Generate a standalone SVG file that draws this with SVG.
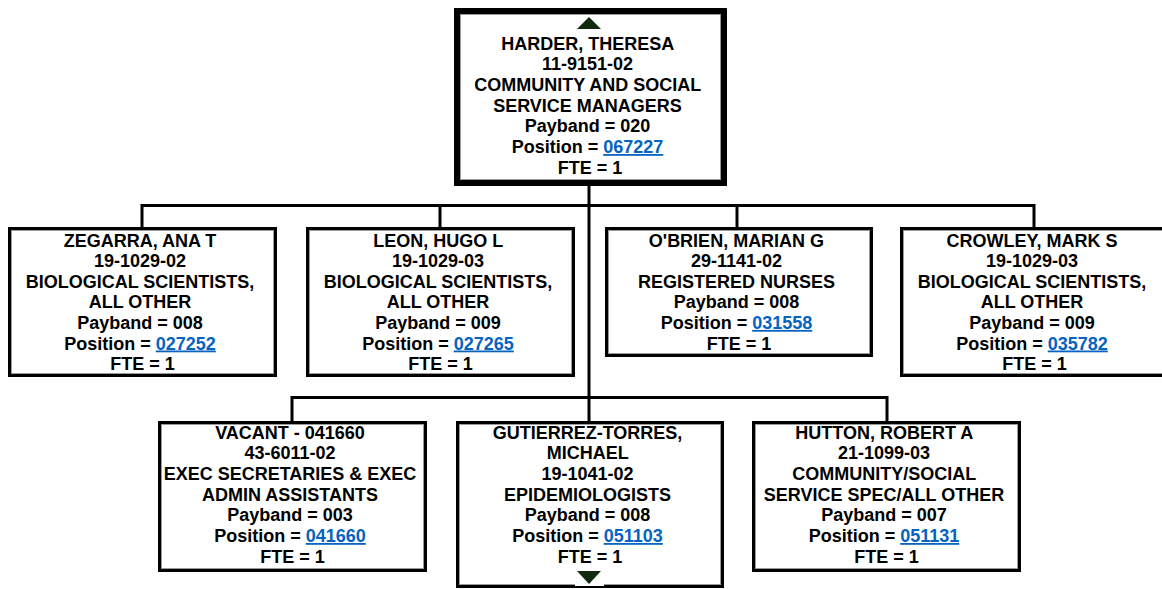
<svg xmlns="http://www.w3.org/2000/svg" width="1162" height="589" viewBox="0 0 1162 589">
  <style>
    .box { fill: #ffffff; stroke: #000000; stroke-width: 3; }
    .boxTop { fill: #ffffff; stroke: #000000; stroke-width: 6; }
    .inner { fill: none; stroke: #9a9a9a; stroke-width: 1; }
    .wire { fill: none; stroke: #000000; stroke-width: 3; }
    .t { font-family: "Liberation Sans", Arial, sans-serif; font-weight: bold; font-size: 18px; fill: #000000; text-anchor: middle; }
    .lnk { fill: #0563C1; text-decoration: underline; }
    .nav { fill: #0f2a0f; }
  </style>

  <!-- connectors -->
  <g id="connectors">
    <line class="wire" x1="589" y1="186" x2="589" y2="421"/>
    <polyline class="wire" points="142,227 142,205.5 1034,205.5 1034,227"/>
    <line class="wire" x1="440" y1="205.5" x2="440" y2="227"/>
    <line class="wire" x1="737" y1="205.5" x2="737" y2="227"/>
    <polyline class="wire" points="292,421 292,397.5 887,397.5 887,421"/>
  </g>

  <!-- top node -->
  <g id="harder">
    <rect class="boxTop" x="457" y="11" width="267" height="172"/>
    <rect class="inner" x="460.5" y="14.5" width="260" height="165"/>
    <polygon class="nav" points="589,17 577,29 601,29"/>
    <text class="t" x="590" y="49.5">
      <tspan x="590">HARDER, THERESA</tspan>
      <tspan x="590" dy="20.7">11-9151-02</tspan>
      <tspan x="590" dy="20.7">COMMUNITY AND SOCIAL</tspan>
      <tspan x="590" dy="20.7">SERVICE MANAGERS</tspan>
      <tspan x="590" dy="20.7">Payband = 020</tspan>
      <tspan x="590" dy="20.7">Position = <tspan class="lnk">067227</tspan></tspan>
      <tspan x="590" dy="20.7">FTE = 1</tspan>
    </text>
  </g>

  <!-- first row -->
  <g id="zegarra">
    <rect class="box" x="9.5" y="228.5" width="266" height="147"/>
    <rect class="inner" x="11.5" y="230.5" width="262" height="143"/>
    <text class="t" x="142.5" y="246.5">
      <tspan x="142.5">ZEGARRA, ANA T</tspan>
      <tspan x="142.5" dy="20.6">19-1029-02</tspan>
      <tspan x="142.5" dy="20.6">BIOLOGICAL SCIENTISTS,</tspan>
      <tspan x="142.5" dy="20.6">ALL OTHER</tspan>
      <tspan x="142.5" dy="20.6">Payband = 008</tspan>
      <tspan x="142.5" dy="20.6">Position = <tspan class="lnk">027252</tspan></tspan>
      <tspan x="142.5" dy="20.6">FTE = 1</tspan>
    </text>
  </g>

  <g id="leon">
    <rect class="box" x="307.5" y="228.5" width="266" height="147"/>
    <rect class="inner" x="309.5" y="230.5" width="262" height="143"/>
    <text class="t" x="440.5" y="246.5">
      <tspan x="440.5">LEON, HUGO L</tspan>
      <tspan x="440.5" dy="20.6">19-1029-03</tspan>
      <tspan x="440.5" dy="20.6">BIOLOGICAL SCIENTISTS,</tspan>
      <tspan x="440.5" dy="20.6">ALL OTHER</tspan>
      <tspan x="440.5" dy="20.6">Payband = 009</tspan>
      <tspan x="440.5" dy="20.6">Position = <tspan class="lnk">027265</tspan></tspan>
      <tspan x="440.5" dy="20.6">FTE = 1</tspan>
    </text>
  </g>

  <g id="obrien">
    <rect class="box" x="606.5" y="228.5" width="265" height="127"/>
    <rect class="inner" x="608.5" y="230.5" width="261" height="123"/>
    <text class="t" x="739" y="246.5">
      <tspan x="739">O'BRIEN, MARIAN G</tspan>
      <tspan x="739" dy="20.6">29-1141-02</tspan>
      <tspan x="739" dy="20.6">REGISTERED NURSES</tspan>
      <tspan x="739" dy="20.6">Payband = 008</tspan>
      <tspan x="739" dy="20.6">Position = <tspan class="lnk">031558</tspan></tspan>
      <tspan x="739" dy="20.6">FTE = 1</tspan>
    </text>
  </g>

  <g id="crowley">
    <rect class="box" x="901.5" y="228.5" width="266" height="147"/>
    <rect class="inner" x="903.5" y="230.5" width="262" height="143"/>
    <text class="t" x="1034.5" y="246.5">
      <tspan x="1034.5">CROWLEY, MARK S</tspan>
      <tspan x="1034.5" dy="20.6">19-1029-03</tspan>
      <tspan x="1034.5" dy="20.6">BIOLOGICAL SCIENTISTS,</tspan>
      <tspan x="1034.5" dy="20.6">ALL OTHER</tspan>
      <tspan x="1034.5" dy="20.6">Payband = 009</tspan>
      <tspan x="1034.5" dy="20.6">Position = <tspan class="lnk">035782</tspan></tspan>
      <tspan x="1034.5" dy="20.6">FTE = 1</tspan>
    </text>
  </g>

  <!-- second row -->
  <g id="vacant">
    <rect class="box" x="159.5" y="422.5" width="266" height="148"/>
    <rect class="inner" x="161.5" y="424.5" width="262" height="144"/>
    <text class="t" x="292.5" y="438.5">
      <tspan x="292.5">VACANT - 041660</tspan>
      <tspan x="292.5" dy="20.7">43-6011-02</tspan>
      <tspan x="292.5" dy="20.7">EXEC SECRETARIES &amp; EXEC</tspan>
      <tspan x="292.5" dy="20.7">ADMIN ASSISTANTS</tspan>
      <tspan x="292.5" dy="20.7">Payband = 003</tspan>
      <tspan x="292.5" dy="20.7">Position = <tspan class="lnk">041660</tspan></tspan>
      <tspan x="292.5" dy="20.7">FTE = 1</tspan>
    </text>
  </g>

  <g id="gutierrez">
    <rect class="box" x="457.5" y="422.5" width="265" height="164"/>
    <rect class="inner" x="459.5" y="424.5" width="261" height="160"/>
    <rect x="575" y="568" width="29" height="18" fill="#ffffff"/>
    <polygon class="nav" points="577,571 601,571 589,584"/>
    <text class="t" x="590" y="438.5">
      <tspan x="590">GUTIERREZ-TORRES,</tspan>
      <tspan x="590" dy="20.7">MICHAEL</tspan>
      <tspan x="590" dy="20.7">19-1041-02</tspan>
      <tspan x="590" dy="20.7">EPIDEMIOLOGISTS</tspan>
      <tspan x="590" dy="20.7">Payband = 008</tspan>
      <tspan x="590" dy="20.7">Position = <tspan class="lnk">051103</tspan></tspan>
      <tspan x="590" dy="20.7">FTE = 1</tspan>
    </text>
  </g>

  <g id="hutton">
    <rect class="box" x="753.5" y="422.5" width="266" height="148"/>
    <rect class="inner" x="755.5" y="424.5" width="262" height="144"/>
    <text class="t" x="886.5" y="438.5">
      <tspan x="886.5">HUTTON, ROBERT A</tspan>
      <tspan x="886.5" dy="20.7">21-1099-03</tspan>
      <tspan x="886.5" dy="20.7">COMMUNITY/SOCIAL</tspan>
      <tspan x="886.5" dy="20.7">SERVICE SPEC/ALL OTHER</tspan>
      <tspan x="886.5" dy="20.7">Payband = 007</tspan>
      <tspan x="886.5" dy="20.7">Position = <tspan class="lnk">051131</tspan></tspan>
      <tspan x="886.5" dy="20.7">FTE = 1</tspan>
    </text>
  </g>
</svg>
